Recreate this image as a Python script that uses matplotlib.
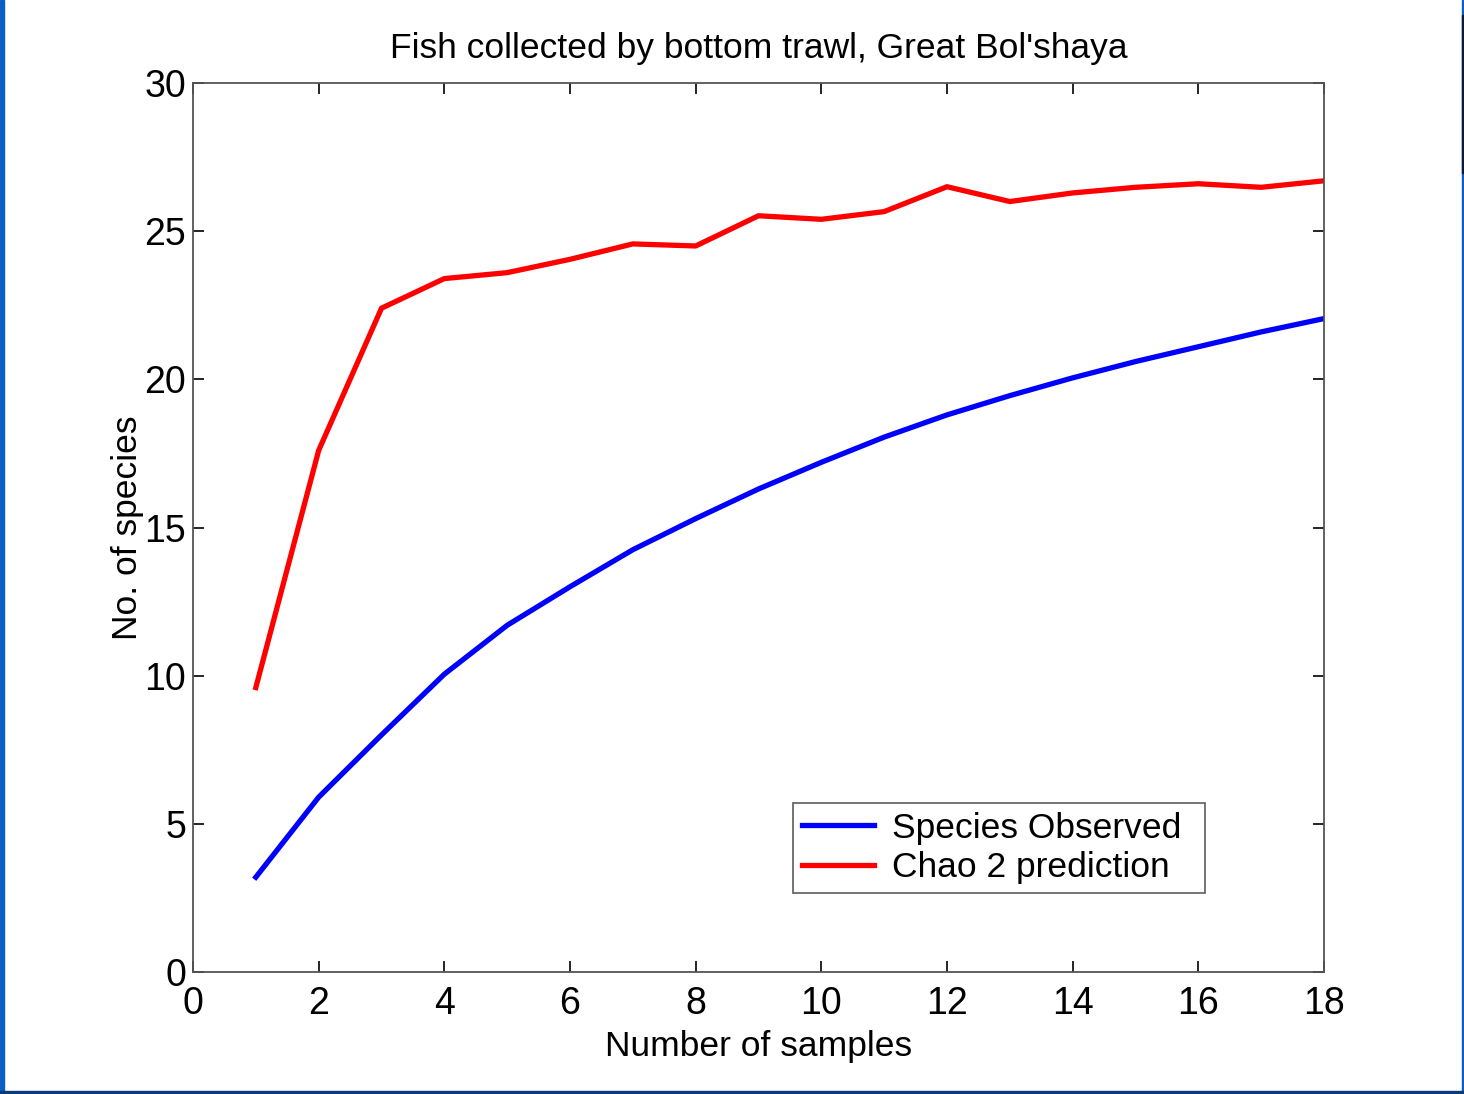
import matplotlib
matplotlib.use("Agg")
import matplotlib.pyplot as plt
from matplotlib.patches import Rectangle

plt.rcParams['font.family'] = ['Liberation Sans', 'DejaVu Sans']

# species accumulation, bottom trawl samples
samples = [1, 2, 3, 4, 5, 6, 7, 8, 9, 10, 11, 12, 13, 14, 15, 16, 17, 18]
observed = [3.2, 5.9, 8.0, 10.05, 11.7, 13.0, 14.25, 15.3, 16.3, 17.2, 18.05,
            18.8, 19.45, 20.05, 20.6, 21.1, 21.6, 22.05]
chao2 = [9.6, 17.6, 22.4, 23.4, 23.6, 24.05, 24.57, 24.5, 25.52, 25.4, 25.66,
         26.5, 26.0, 26.29, 26.48, 26.6, 26.48, 26.7]

x_ticks = [0, 2, 4, 6, 8, 10, 12, 14, 16, 18]
y_ticks = [0, 5, 10, 15, 20, 25, 30]

fig = plt.figure(figsize=(14.64, 10.94), dpi=100)
fig.patch.set_facecolor('white')

# slide border
fig.add_artist(Rectangle((0, 0), 4 / 1464, 1, transform=fig.transFigure,
                         color='#0a5fc4', zorder=0))
fig.add_artist(Rectangle((1462 / 1464, 0), 2 / 1464, 1, transform=fig.transFigure,
                         color='#0a5fc4', zorder=0))
fig.add_artist(Rectangle((1462 / 1464, 1 - 173 / 1094), 2 / 1464, 158 / 1094,
                         transform=fig.transFigure, color='#0b1a3a', zorder=1))
fig.add_artist(Rectangle((0, 0), 1, 3 / 1094, transform=fig.transFigure,
                         color='#0b3b7a', zorder=0))

ax = fig.add_axes([193 / 1464, 1 - 972 / 1094, 1131 / 1464, 889 / 1094])

ax.plot(samples, observed, color='#0000ff', lw=3.8, label='Species Observed')
ax.plot(samples, chao2, color='#ff0000', lw=3.8, label='Chao 2 prediction')

ax.set_xlim(0, 18)
ax.set_ylim(0, 30)
ax.set_xticks(x_ticks)
ax.set_yticks(y_ticks)
ax.tick_params(direction='in', length=8, width=1.2, labelsize=27, pad=5,
               top=True, right=True, color='black')
ax.tick_params(axis='x', pad=10)
for s in ax.spines.values():
    s.set_color('#555555')
    s.set_linewidth(1.3)

ax.set_title("Fish collected by bottom trawl, Great Bol'shaya", fontsize=25.5, pad=18)
ax.set_xlabel('Number of samples', fontsize=25.5, labelpad=6)
ax.set_ylabel('No. of species', fontsize=25.5, labelpad=0)

leg = ax.legend(loc='lower left', bbox_to_anchor=(0.5305, 0.0889, 0.364, 0.099),
                mode='expand', borderaxespad=0, fancybox=False, fontsize=25.5,
                handlelength=2.05, handletextpad=0.5, borderpad=0.25,
                labelspacing=0.18)
leg.get_frame().set_edgecolor('#333333')
leg.get_frame().set_linewidth(1.2)

fig.savefig('out.png', dpi=100)
